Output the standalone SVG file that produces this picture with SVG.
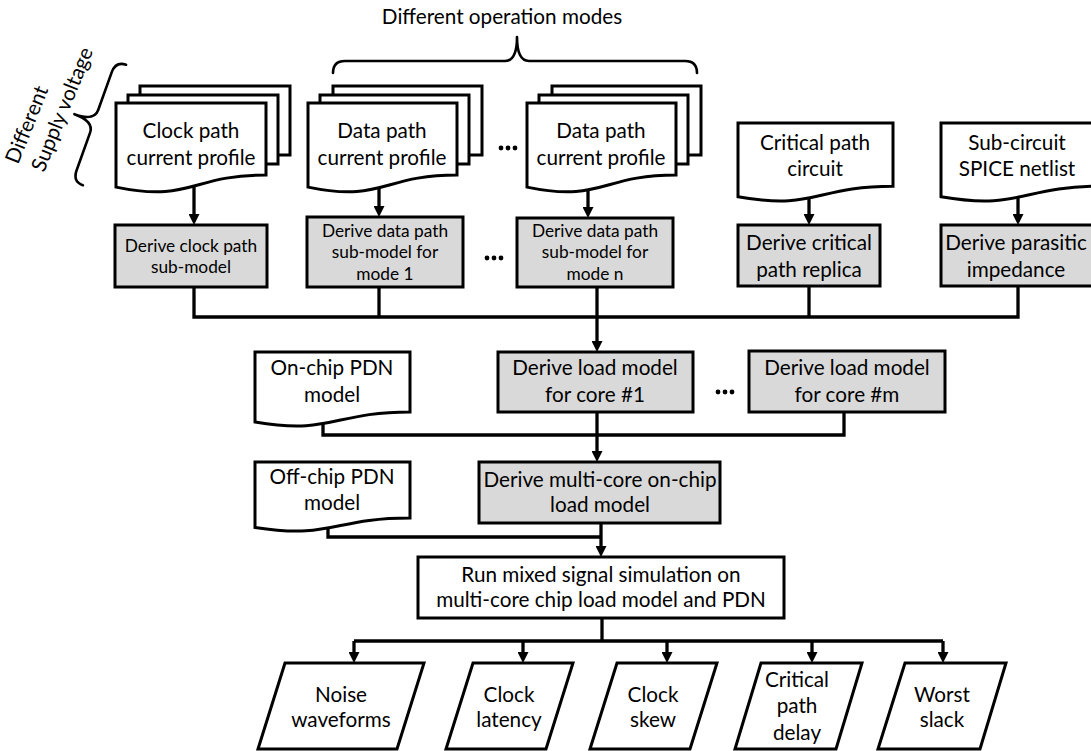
<svg xmlns="http://www.w3.org/2000/svg" width="1091" height="751" viewBox="0 0 1091 751">
  <defs>
    <marker id="arrow" markerUnits="userSpaceOnUse" markerWidth="11" markerHeight="11" refX="3" refY="5.5" orient="auto">
      <path d="M0,0 L11,5.5 L0,11 z" fill="#000"/>
    </marker>
    <style>
      .t{font-family:Lato,"Open Sans",sans-serif;font-size:20.7px;fill:#000;text-anchor:middle}
      .s{font-size:17.3px}
      .doc{fill:#fff;stroke:#000;stroke-width:3;stroke-linejoin:miter}
      .proc{fill:#d9d9d9;stroke:#000;stroke-width:3}
      .box{fill:#fff;stroke:#000;stroke-width:3}
      .io{fill:#fff;stroke:#000;stroke-width:3;stroke-linejoin:miter}
      .c{fill:none;stroke:#000;stroke-width:3.3;stroke-linejoin:miter}
      .a{marker-end:url(#arrow)}
      .brace{fill:none;stroke:#000;stroke-width:2.6;stroke-linejoin:round;stroke-linecap:round}
      .dots{fill:#000}
    </style>
  </defs>

  <rect width="1091" height="751" fill="#fff"/>

  <!-- connectors (drawn first so shapes cover line ends) -->
  <g id="connectors">
    <path class="c a" d="M194,185 V217"/>
    <path class="c a" d="M379,185 V209"/>
    <path class="c a" d="M588,185 V210"/>
    <path class="c a" d="M809,192 V217"/>
    <path class="c a" d="M1018,192 V217"/>
    <path class="c" d="M194,287 V317 H1018 V286"/>
    <path class="c" d="M379,287 V317"/>
    <path class="c" d="M809,286 V317"/>
    <path class="c a" d="M597,287 V344"/>
    <path class="c" d="M323,418 V435 H844 V412"/>
    <path class="c a" d="M597,412 V454"/>
    <path class="c" d="M328,522 V537 H601"/>
    <path class="c a" d="M601,523 V549"/>
    <path class="c" d="M602,618 V641"/>
    <path class="c" d="M354,641 H943"/>
    <path class="c a" d="M354,641 V655"/>
    <path class="c a" d="M523,641 V655"/>
    <path class="c a" d="M667,641 V655"/>
    <path class="c a" d="M812,641 V655"/>
    <path class="c a" d="M943,641 V655"/>
  </g>

  <!-- annotations: braces and their labels -->
  <g id="modes-label">
    <text class="t" x="502" y="24">Different operation modes</text>
    <path class="brace" d="M333,73 Q333,61 345,61 H505 Q517,61 517,37 Q517,61 529,61 H685 Q697,61 697,73"/>
  </g>
  <g id="voltage-label">
    <text class="t" style="text-anchor:start" transform="translate(18,165) rotate(-68)">Different</text>
    <text class="t" style="text-anchor:start" transform="translate(44,173) rotate(-68)">Supply voltage</text>
    <path class="brace" transform="translate(104.5,125) rotate(-70.3)" d="M-64,0 Q-64,-11 -52,-11 H-12 Q0,-11 0,-32 Q0,-11 12,-11 H52 Q64,-11 64,0"/>
  </g>

  <!-- input current profiles (stacked documents) -->
  <g id="clock-profile">
    <rect class="doc" x="140" y="86" width="150" height="69"/>
    <rect class="doc" x="128" y="95" width="150" height="69"/>
    <path class="doc" d="M116,103 H266 V175 C191,175 191,202.6 116,187.1 Z"/>
    <text class="t" x="191" y="138">Clock path</text>
    <text class="t" x="191" y="165">current profile</text>
  </g>
  <g id="data-profile-1">
    <rect class="doc" x="333" y="86" width="149" height="69"/>
    <rect class="doc" x="320" y="95" width="149" height="69"/>
    <path class="doc" d="M308,103 H457 V175 C382.5,175 382.5,202.6 308,187.1 Z"/>
    <text class="t" x="382" y="138">Data path</text>
    <text class="t" x="382" y="165">current profile</text>
  </g>
  <g id="dots-profiles" class="dots">
    <circle cx="501" cy="148" r="2.4"/><circle cx="508" cy="148" r="2.4"/><circle cx="515" cy="148" r="2.4"/>
  </g>
  <g id="data-profile-n">
    <rect class="doc" x="552" y="86" width="149" height="69"/>
    <rect class="doc" x="539" y="95" width="149" height="69"/>
    <path class="doc" d="M527,103 H676 V175 C601.5,175 601.5,202.6 527,187.1 Z"/>
    <text class="t" x="601" y="138">Data path</text>
    <text class="t" x="601" y="165">current profile</text>
  </g>
  <g id="critical-circuit">
    <path class="doc" d="M738,123 H893 V186.2 C815.5,186.2 815.5,210.5 738,196.8 Z"/>
    <text class="t" x="815" y="150">Critical path</text>
    <text class="t" x="815" y="176">circuit</text>
  </g>
  <g id="spice-netlist">
    <path class="doc" d="M941,123 H1101 V186.2 C1021,186.2 1021,210.5 941,196.8 Z"/>
    <text class="t" x="1017" y="150">Sub-circuit</text>
    <text class="t" x="1017" y="176">SPICE netlist</text>
  </g>

  <!-- sub-model derivation -->
  <g id="clock-submodel">
    <rect class="proc" x="115" y="225" width="152" height="62"/>
    <text class="t s" x="191" y="252">Derive clock path</text>
    <text class="t s" x="191" y="273">sub-model</text>
  </g>
  <g id="data-submodel-1">
    <rect class="proc" x="307" y="217" width="156" height="70"/>
    <text class="t s" x="385" y="237">Derive data path</text>
    <text class="t s" x="385" y="258">sub-model for</text>
    <text class="t s" x="385" y="280">mode 1</text>
  </g>
  <g id="dots-submodels" class="dots">
    <circle cx="487" cy="258" r="2.4"/><circle cx="494" cy="258" r="2.4"/><circle cx="501" cy="258" r="2.4"/>
  </g>
  <g id="data-submodel-n">
    <rect class="proc" x="517" y="218" width="156" height="69"/>
    <text class="t s" x="595" y="237">Derive data path</text>
    <text class="t s" x="595" y="258">sub-model for</text>
    <text class="t s" x="595" y="280">mode n</text>
  </g>
  <g id="critical-replica">
    <rect class="proc" x="738" y="225" width="142" height="61"/>
    <text class="t" x="809" y="250">Derive critical</text>
    <text class="t" x="809" y="277">path replica</text>
  </g>
  <g id="parasitic-impedance">
    <rect class="proc" x="941" y="225" width="156" height="61"/>
    <text class="t" x="1016" y="250">Derive parasitic</text>
    <text class="t" x="1016" y="277">impedance</text>
  </g>

  <!-- per-core load models -->
  <g id="onchip-pdn">
    <path class="doc" d="M255,352 H410 V412 C332.5,412 332.5,435 255,422 Z"/>
    <text class="t" x="332" y="375">On-chip PDN</text>
    <text class="t" x="332" y="402">model</text>
  </g>
  <g id="core-1">
    <rect class="proc" x="498" y="352" width="195" height="60"/>
    <text class="t" x="595" y="375">Derive load model</text>
    <text class="t" x="595" y="402">for core #1</text>
  </g>
  <g id="dots-cores" class="dots">
    <circle cx="718" cy="392" r="2.4"/><circle cx="725" cy="392" r="2.4"/><circle cx="732" cy="392" r="2.4"/>
  </g>
  <g id="core-m">
    <rect class="proc" x="749" y="351" width="196" height="61"/>
    <text class="t" x="847" y="375">Derive load model</text>
    <text class="t" x="847" y="402">for core #m</text>
  </g>

  <!-- chip-level model -->
  <g id="offchip-pdn">
    <path class="doc" d="M255,462 H410 V518 C332.5,518 332.5,539.5 255,527.4 Z"/>
    <text class="t" x="332" y="484">Off-chip PDN</text>
    <text class="t" x="332" y="510">model</text>
  </g>
  <g id="multicore-model">
    <rect class="proc" x="479" y="462" width="241" height="61"/>
    <text class="t" x="600" y="487">Derive multi-core on-chip</text>
    <text class="t" x="600" y="512">load model</text>
  </g>
  <g id="simulation">
    <rect class="box" x="418" y="557" width="366" height="61"/>
    <text class="t" x="601" y="582">Run mixed signal simulation on</text>
    <text class="t" x="601" y="607">multi-core chip load model and PDN</text>
  </g>

  <!-- outputs -->
  <g id="noise-waveforms">
    <path class="io" d="M285,663 H424 L397,749 H258 Z"/>
    <text class="t" x="341" y="702">Noise</text>
    <text class="t" x="341" y="727">waveforms</text>
  </g>
  <g id="clock-latency">
    <path class="io" d="M473,663 H573 L546,749 H446 Z"/>
    <text class="t" x="509" y="702">Clock</text>
    <text class="t" x="509" y="727">latency</text>
  </g>
  <g id="clock-skew">
    <path class="io" d="M617,663 H717 L690,749 H590 Z"/>
    <text class="t" x="653" y="702">Clock</text>
    <text class="t" x="653" y="727">skew</text>
  </g>
  <g id="critical-delay">
    <path class="io" d="M761,663 H862 L836,749 H735 Z"/>
    <text class="t" x="797" y="687">Critical</text>
    <text class="t" x="797" y="713">path</text>
    <text class="t" x="797" y="740">delay</text>
  </g>
  <g id="worst-slack">
    <path class="io" d="M905,663 H1006 L980,749 H878 Z"/>
    <text class="t" x="942" y="702">Worst</text>
    <text class="t" x="942" y="727">slack</text>
  </g>
</svg>
